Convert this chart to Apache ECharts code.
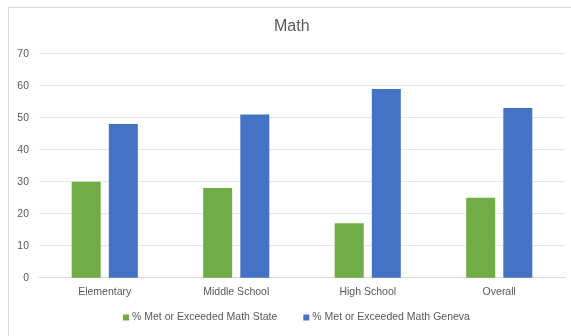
<!DOCTYPE html>
<html>
<head>
<meta charset="utf-8">
<script src="https://cdn.jsdelivr.net/npm/echarts@6/dist/echarts.min.js"></script>
<style>
  html, body { margin: 0; padding: 0; background: #fff; }
  #chart { width: 571px; height: 336px; }
</style>
</head>
<body>
<div id="chart"></div>
<script>
// categories and values
var categories = ['Elementary', 'Middle School', 'High School', 'Overall'];
var stateValues = [30, 28, 17, 25];
var genevaValues = [48, 51, 59, 53];
var seriesNames = ['% Met or Exceeded Math State', '% Met or Exceeded Math Geneva'];

var textColor = '#595959';
var font = 'Liberation Sans';

var chart = echarts.init(document.getElementById('chart'));
var option = {
  backgroundColor: '#fff',
  animation: false,
  color: ['#70ad47', '#4472c4'],
  graphic: [{
    type: 'rect',
    shape: { x: 8.5, y: 7.5, width: 700, height: 500 },
    style: { fill: 'none', stroke: '#d9d9d9', lineWidth: 1 }
  }],
  title: {
    text: 'Math',
    left: 274,
    top: 19,
    padding: 0,
    textStyle: { color: textColor, fontSize: 16, fontWeight: 'normal', fontFamily: font }
  },
  legend: {
    data: seriesNames,
    bottom: 8,
    left: 118,
    itemWidth: 6,
    itemHeight: 6,
    itemGap: 26,
    icon: 'rect',
    textStyle: { color: textColor, fontSize: 10.5, fontFamily: font, padding: [0, 0, 0, -2] }
  },
  grid: { left: 39, right: 6, top: 53.7, bottom: 58.3 },
  xAxis: {
    type: 'category',
    data: categories,
    axisTick: { show: false },
    axisLine: { lineStyle: { color: '#d9d9d9' } },
    axisLabel: { color: textColor, fontSize: 10.5, fontFamily: font, margin: 9 }
  },
  yAxis: {
    type: 'value',
    min: 0,
    max: 70,
    interval: 10,
    axisLine: { show: false },
    axisTick: { show: false },
    splitLine: { lineStyle: { color: '#e6e6e6' } },
    axisLabel: { color: textColor, fontSize: 10.5, fontFamily: font, margin: 10 }
  },
  series: [
    { name: seriesNames[0], type: 'bar', data: stateValues, barWidth: 29, barGap: '28%' },
    { name: seriesNames[1], type: 'bar', data: genevaValues, barWidth: 29, barGap: '28%' }
  ]
};
chart.setOption(option);
</script>
</body>
</html>
